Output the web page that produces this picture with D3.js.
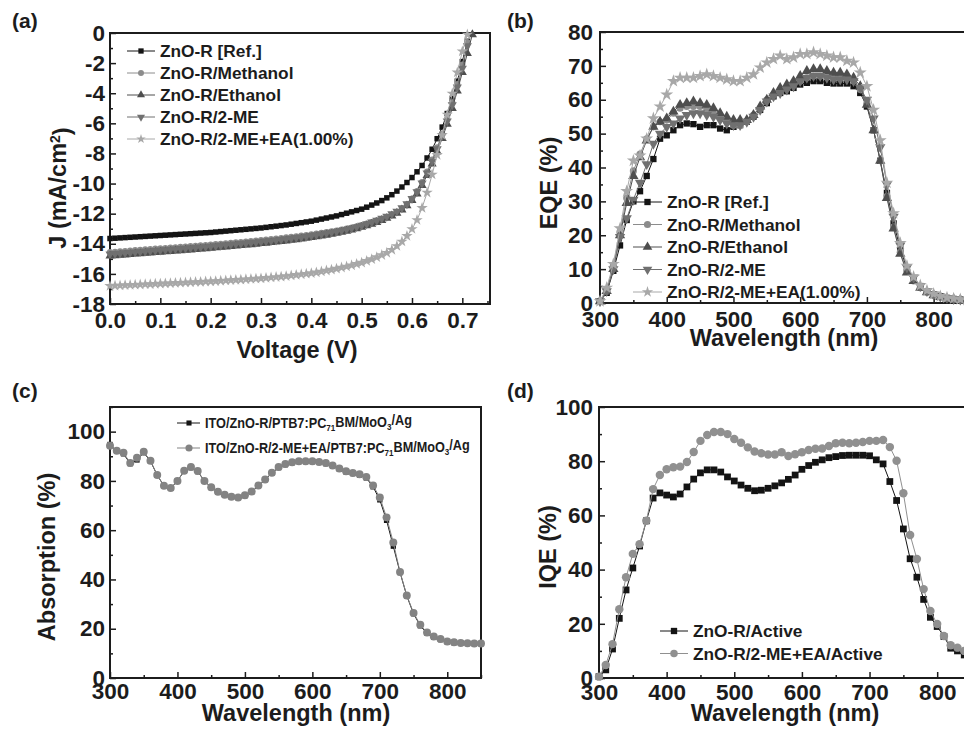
<!DOCTYPE html>
<html>
<head>
<meta charset="utf-8">
<script src="https://cdn.jsdelivr.net/npm/d3@7"></script>
<style>
  body { margin: 0; background: #fff; }
  svg text { font-family: "Liberation Sans", Arial, sans-serif; font-weight: bold; fill: #1c1c1c; }
  .axis line { stroke: #1c1c1c; stroke-width: 1.5; }
</style>
</head>
<body>
<svg id="fig" width="964" height="733"></svg>
<script>
// ---- data ----
// (a) J-V curves, voltage grid in V
var jvVolt = [0.00,0.01,0.02,0.03,0.04,0.05,0.06,0.07,0.08,0.09,
  0.10,0.11,0.12,0.13,0.14,0.15,0.16,0.17,0.18,0.19,
  0.20,0.21,0.22,0.23,0.24,0.25,0.26,0.27,0.28,0.29,
  0.30,0.31,0.32,0.33,0.34,0.35,0.36,0.37,0.38,0.39,
  0.40,0.41,0.42,0.43,0.44,0.45,0.46,0.47,0.48,0.49,
  0.50,0.51,0.52,0.53,0.54,0.55,0.56,0.57,0.58,0.59,
  0.60,0.61,0.62,0.63,0.64,0.65,0.66,0.67,0.68,0.69,
  0.70,0.71,0.72];
var jvRef = [-13.65,-13.63,-13.61,-13.59,-13.57,-13.55,-13.53,-13.51,-13.49,-13.47,
  -13.45,-13.43,-13.41,-13.39,-13.37,-13.35,-13.33,-13.31,-13.29,-13.27,
  -13.25,-13.22,-13.19,-13.16,-13.13,-13.10,-13.07,-13.04,-13.01,-12.98,
  -12.95,-12.91,-12.87,-12.83,-12.79,-12.75,-12.70,-12.65,-12.60,-12.55,
  -12.50,-12.43,-12.36,-12.29,-12.22,-12.15,-12.06,-11.97,-11.88,-11.79,
  -11.70,-11.57,-11.43,-11.29,-11.13,-10.95,-10.74,-10.50,-10.23,-9.93,
  -9.60,-9.22,-8.80,-8.30,-7.72,-7.02,-6.25,-5.35,-4.35,-3.20,
  -1.90,-0.55];
var jvMethanol = [-14.55,-14.53,-14.50,-14.48,-14.45,-14.42,-14.40,-14.37,-14.35,-14.32,
  -14.30,-14.28,-14.25,-14.23,-14.20,-14.18,-14.15,-14.13,-14.10,-14.08,
  -14.05,-14.02,-14.00,-13.97,-13.94,-13.91,-13.88,-13.85,-13.82,-13.79,
  -13.76,-13.73,-13.69,-13.66,-13.62,-13.58,-13.54,-13.50,-13.46,-13.42,
  -13.38,-13.33,-13.28,-13.23,-13.18,-13.12,-13.06,-12.99,-12.92,-12.84,
  -12.76,-12.66,-12.56,-12.45,-12.34,-12.22,-12.07,-11.90,-11.67,-11.38,
  -11.00,-10.50,-9.90,-9.20,-8.40,-7.60,-6.70,-5.70,-4.60,-3.40,
  -2.10,-0.60];
var jvEthanol = [-14.80,-14.78,-14.75,-14.73,-14.70,-14.67,-14.65,-14.62,-14.60,-14.57,
  -14.55,-14.52,-14.50,-14.47,-14.45,-14.42,-14.40,-14.37,-14.34,-14.32,
  -14.29,-14.26,-14.23,-14.20,-14.17,-14.14,-14.11,-14.08,-14.05,-14.02,
  -13.98,-13.95,-13.91,-13.88,-13.84,-13.80,-13.76,-13.72,-13.68,-13.63,
  -13.58,-13.53,-13.48,-13.42,-13.36,-13.30,-13.23,-13.16,-13.08,-12.99,
  -12.90,-12.80,-12.69,-12.57,-12.44,-12.30,-12.14,-11.96,-11.74,-11.47,
  -11.12,-10.68,-10.12,-9.45,-8.70,-7.88,-7.00,-6.05,-5.00,-3.85,
  -2.62,-1.35,-0.10];
var jv2ME = [-14.68,-14.66,-14.63,-14.61,-14.58,-14.55,-14.53,-14.50,-14.48,-14.45,
  -14.43,-14.40,-14.38,-14.35,-14.33,-14.30,-14.28,-14.25,-14.23,-14.20,
  -14.17,-14.14,-14.11,-14.08,-14.05,-14.02,-13.99,-13.96,-13.93,-13.90,
  -13.87,-13.83,-13.80,-13.76,-13.72,-13.68,-13.64,-13.60,-13.56,-13.51,
  -13.46,-13.41,-13.36,-13.30,-13.24,-13.18,-13.11,-13.04,-12.96,-12.87,
  -12.78,-12.68,-12.57,-12.45,-12.32,-12.18,-12.02,-11.84,-11.62,-11.35,
  -11.00,-10.55,-9.98,-9.30,-8.52,-7.70,-6.82,-5.85,-4.78,-3.60,
  -2.35,-0.85];
var jvEA = [-16.80,-16.78,-16.77,-16.75,-16.74,-16.72,-16.71,-16.69,-16.68,-16.66,
  -16.65,-16.63,-16.62,-16.60,-16.59,-16.57,-16.56,-16.54,-16.53,-16.51,
  -16.50,-16.48,-16.46,-16.44,-16.42,-16.40,-16.38,-16.36,-16.34,-16.32,
  -16.30,-16.27,-16.24,-16.21,-16.18,-16.15,-16.11,-16.07,-16.03,-15.99,
  -15.95,-15.90,-15.84,-15.78,-15.72,-15.65,-15.58,-15.51,-15.43,-15.34,
  -15.25,-15.14,-15.02,-14.89,-14.75,-14.60,-14.40,-14.15,-13.85,-13.48,
  -13.02,-12.42,-11.62,-10.60,-9.40,-8.10,-6.78,-5.42,-4.02,-2.62,
  -1.22,-0.10];

// wavelength grid (nm) for (b), (c), (d)
var wl = [300,310,320,330,340,350,360,370,380,390,
  400,410,420,430,440,450,460,470,480,490,
  500,510,520,530,540,550,560,570,580,590,
  600,610,620,630,640,650,660,670,680,690,
  700,710,720,730,740,750,760,770,780,790,
  800,810,820,830,840,850];

// (b) EQE (%)
var eqeRef = [0.5,3,9.5,17,24.5,30,33,37.5,42.5,48.5,
  49.5,51,52.5,53,52.8,52,52.5,52.5,51.5,51,
  52,52.5,53.5,55,57,59,61,62,62.5,63.5,
  64.5,65,65.5,65.5,65,64.8,64.8,64.8,64,62,
  58,51,42,32.5,23.5,16,10,7,5,3.5,
  2.5,2,1.5,1.2,1,0.8];
var eqeMethanol = [0.5,3.5,11,21,31,39,44,48.5,52,53.5,
  54,56,57.5,58,58,58,57,56,54.5,53.5,
  52.5,52.5,53.5,55.5,57.5,60,61.5,62.5,63.5,64.5,
  65.5,66.5,67,67,67,66.5,66.5,66.5,65.5,63,
  59,51,42,31.5,22.5,15,9.5,6.5,4.5,3.2,
  2.3,1.8,1.4,1.1,0.9,0.7];
var eqeEthanol = [0.5,3.5,10,20,29.5,37.5,43,48,52,53.5,
  54.5,56.5,58.5,59,59.5,59,58.5,57.5,56,55,
  54,54,54,55.5,58,60,62,63.5,64.5,65.5,
  67,68.5,69,69,68.5,68,68,67.5,66.5,64,
  58.5,51,42,31,22,14.5,9,6.5,4.5,3.2,
  2.3,1.8,1.3,1.1,0.9,0.7];
var eqe2ME = [0.5,3.5,10,19.5,25,30.5,35.5,41,47,50,
  52,53,54.5,55.5,56,56,55.5,55,54,53,
  52.5,52.5,53.5,55,57,59.5,61,62,63,64,
  65.5,66.5,67,67,66.5,66,66,66,65.5,63.5,
  60,54.5,46,35,25.5,17,10.5,7.5,5,3.5,
  2.5,1.9,1.5,1.2,1,0.8];
var eqeEA = [0.5,4.5,11.5,22,33,42,43.5,48.5,54.5,58,
  61.5,65.5,66.5,66.5,66.5,67,67.5,67,66.5,66,
  65.5,65.5,66.5,67.5,69.5,71,72,73,72,72.5,
  73.5,73.5,74,73.5,73,72.5,72.5,71.5,71,68,
  64,57,48,35.5,26.5,17.7,11,7.7,5.2,3.7,
  2.7,2,1.6,1.3,1.1,0.9];

// (c) absorption (%)
var absRef = [94.8,92,91,87,88.5,91.5,88,82.3,78,77,
  80,84,85.4,83.8,80,77.3,75.4,74.2,73.4,73.2,
  74,75.5,78,80.5,83.2,85.4,86.6,87.4,87.8,87.8,
  87.8,87.5,87,86,84.8,83.6,83,82.4,81.2,77.6,
  72.3,64,53.5,42.8,33.3,26.1,21.2,18.2,16.5,15.6,
  14.6,14.3,14.1,14,13.9,13.9];
var absEA = [94.3,92.2,91.4,87.3,89.4,91.8,88.2,82.4,78,77.1,
  80,84.1,85.6,84,80,77.4,75.6,74.4,73.6,73.3,
  74.2,75.7,78.1,80.6,83.3,85.6,86.9,87.6,88,88,
  88,87.7,87.3,86.3,85,83.9,83.2,82.7,81.6,78.1,
  73.3,65.2,55,43,33.5,26.4,21.6,18.5,16.8,15.8,
  14.8,14.5,14.2,14.1,14,14];

// (d) IQE (%)
var iqeRef = [0.5,3,10.7,22,32.5,40.6,48.7,58,66.4,68.3,
  67.5,66.8,67.9,70.5,73.4,75.7,76.8,76.8,76,74.2,
  72.7,71.2,70,69.1,69.3,70,70.9,72,73.3,74.9,
  77,78.4,79.6,80.5,81.3,81.7,82.1,82.2,82.2,82.2,
  82,80.5,79,72.5,65.5,55,44,37.2,29,22.4,
  19,15.3,11,10,8.5,8];
var iqeEA = [0.5,4.8,12.5,25.4,37.2,45.8,49.4,58,69.7,74.9,
  77,77.8,78,79.7,83.4,87.5,89.7,90.8,90.8,90,
  88.2,86.8,85.1,83.6,82.9,82.5,82.5,83.3,81.9,82.6,
  83.3,84.1,84.6,84.7,85.6,86.6,86.8,86.6,86.8,87.1,
  87.5,87.5,87.8,85.2,80.2,68.2,52.8,43.9,32.8,24.7,
  19.9,15.5,12.1,11.2,10,9.5];

// labels and ticks
var solventLabels = ["ZnO-R [Ref.]", "ZnO-R/Methanol", "ZnO-R/Ethanol", "ZnO-R/2-ME", "ZnO-R/2-ME+EA(1.00%)"];
var iqeLabels = ["ZnO-R/Active", "ZnO-R/2-ME+EA/Active"];
var jvXTicks = [0, 0.1, 0.2, 0.3, 0.4, 0.5, 0.6, 0.7];
var jvYTicks = [-18, -16, -14, -12, -10, -8, -6, -4, -2, 0];
var wlTicks = [300, 400, 500, 600, 700, 800];
var eqeYTicks = [0, 10, 20, 30, 40, 50, 60, 70, 80];
var pctTicks = [0, 20, 40, 60, 80, 100];

// ---- drawing ----
var svg = d3.select("#fig");
var ink = "#1c1c1c";
var greys = ["#141414", "#8c8c8c", "#4e4e4e", "#707070", "#a8a8a8"];
var symbols = [d3.symbolSquare, d3.symbolCircle, d3.symbolTriangle, d3.symbolTriangle, d3.symbolStar];
var flips = [false, false, false, true, false];

function mids(t, step) {
  // minor tick positions halfway between the majors
  return t.map(function(v) { return v + step / 2; });
}

function panel(p) {
  var x = d3.scaleLinear().domain(p.xDom).range([p.left, p.right]);
  var y = d3.scaleLinear().domain(p.yDom).range([p.bottom, p.top]);
  var g = svg.append("g");

  var xa = g.append("g").attr("class", "axis").attr("transform", "translate(0," + p.bottom + ")")
    .call(d3.axisBottom(x).tickValues(p.xTicks).tickSize(-6).tickPadding(p.xPad).tickFormat(p.xFmt));
  xa.attr("font-size", 22.5);
  xa.select(".domain").remove();
  var xm = g.append("g").attr("class", "axis").attr("transform", "translate(0," + p.bottom + ")")
    .call(d3.axisBottom(x).tickValues(p.xMinor).tickSize(-3).tickFormat(function() { return ""; }));
  xm.select(".domain").remove();

  var ya = g.append("g").attr("class", "axis").attr("transform", "translate(" + p.left + ",0)")
    .call(d3.axisLeft(y).tickValues(p.yTicks).tickSize(-6).tickPadding(p.yPad).tickFormat(function(d) { return String(d); }));
  ya.attr("font-size", 22.5);
  ya.select(".domain").remove();
  var ym = g.append("g").attr("class", "axis").attr("transform", "translate(" + p.left + ",0)")
    .call(d3.axisLeft(y).tickValues(p.yMinor).tickSize(-3).tickFormat(function() { return ""; }));
  ym.select(".domain").remove();

  g.append("rect")
    .attr("x", p.left).attr("y", p.top)
    .attr("width", p.right - p.left).attr("height", p.bottom - p.top)
    .attr("fill", "none").attr("stroke", ink).attr("stroke-width", 2);

  // panel letter
  g.append("text").attr("x", p.tagX).attr("y", p.tagY).attr("font-size", 21).text(p.tag);
  // axis titles
  g.append("text").attr("x", p.xTitleX).attr("y", p.xTitleY)
    .attr("text-anchor", "middle").attr("font-size", 23.5).text(p.xTitle);
  var yt = g.append("text")
    .attr("transform", "translate(" + p.yTitleX + "," + p.yTitleY + ") rotate(-90)")
    .attr("text-anchor", "middle").attr("font-size", 23.5);
  p.yTitle(yt);

  return {g: g, x: x, y: y};
}

function series(P, xs, ys, color, sym, size, flip) {
  var pts = ys.map(function(v, i) { return [xs[i], v]; });
  P.g.append("path").datum(pts)
    .attr("d", d3.line().x(function(d) { return P.x(d[0]); }).y(function(d) { return P.y(d[1]); }))
    .attr("fill", "none").attr("stroke", color).attr("stroke-width", 1);
  P.g.append("g").selectAll("path").data(pts).enter().append("path")
    .attr("d", d3.symbol().type(sym).size(size))
    .attr("transform", function(d) {
      return "translate(" + P.x(d[0]) + "," + P.y(d[1]) + ")" + (flip ? " rotate(180)" : "");
    })
    .attr("fill", color);
}

function legend(P, items, y0, dy, lx0, lx1, tx, fs) {
  items.forEach(function(it, i) {
    var yy = y0 + i * dy;
    P.g.append("line").attr("x1", lx0).attr("x2", lx1).attr("y1", yy).attr("y2", yy)
      .attr("stroke", it.color).attr("stroke-width", 1);
    P.g.append("path").attr("d", d3.symbol().type(it.sym).size(it.size))
      .attr("transform", "translate(" + ((lx0 + lx1) / 2) + "," + yy + ")" + (it.flip ? " rotate(180)" : ""))
      .attr("fill", it.color);
    P.g.append("text").attr("x", tx).attr("y", yy).attr("dy", "0.36em")
      .attr("font-size", fs).text(it.label);
  });
}

// (a) J-V
var A = panel({
  left: 110, right: 490, top: 33, bottom: 304,
  xDom: [0, 0.755], yDom: [-18, 0],
  xTicks: jvXTicks, xMinor: mids(jvXTicks, 0.1), yTicks: jvYTicks, yMinor: mids(jvYTicks.slice(0, -1), 2),
  xFmt: function(d) { return d.toFixed(1); }, xPad: 8, yPad: 5,
  tag: "(a)", tagX: 12, tagY: 28,
  xTitle: "Voltage (V)", xTitleX: 297, xTitleY: 358,
  yTitleX: 66, yTitleY: 188,
  yTitle: function(t) {
    t.append("tspan").text("J (mA/cm");
    t.append("tspan").attr("dy", "-0.45em").attr("font-size", 14).text("2");
    t.append("tspan").attr("dy", "0.45em").text(")");
  }
});
var jvSeries = [jvRef, jvMethanol, jvEthanol, jv2ME, jvEA];
var jvSizes = [30, 30, 36, 36, 40];
jvSeries.forEach(function(s, i) { series(A, jvVolt, s, greys[i], symbols[i], jvSizes[i], flips[i]); });
legend(A, solventLabels.map(function(l, i) {
  return {label: l, color: greys[i], sym: symbols[i], size: 28, flip: flips[i]};
}), 51, 22, 127, 155, 160, 17.3);

// (b) EQE
var B = panel({
  left: 600, right: 967, top: 32, bottom: 303,
  xDom: [300, 850], yDom: [0, 80],
  xTicks: wlTicks, xMinor: mids(wlTicks, 100), yTicks: eqeYTicks, yMinor: mids(eqeYTicks.slice(0, -1), 10),
  xFmt: function(d) { return String(d); }, xPad: 8, yPad: 7,
  tag: "(b)", tagX: 507, tagY: 28,
  xTitle: "Wavelength (nm)", xTitleX: 784, xTitleY: 346,
  yTitleX: 557, yTitleY: 183,
  yTitle: function(t) { t.text("EQE (%)"); }
});
var eqeSeries = [eqeRef, eqeMethanol, eqeEthanol, eqe2ME, eqeEA];
var eqeSizes = [40, 40, 46, 46, 52];
eqeSeries.forEach(function(s, i) { series(B, wl, s, greys[i], symbols[i], eqeSizes[i], flips[i]); });
legend(B, solventLabels.map(function(l, i) {
  return {label: l, color: greys[i], sym: symbols[i], size: 40, flip: flips[i]};
}), 202, 22.5, 633, 662, 667, 17.3);

// (c) absorption
var C = panel({
  left: 110, right: 481, top: 407, bottom: 678,
  xDom: [300, 850], yDom: [0, 110],
  xTicks: wlTicks, xMinor: mids(wlTicks, 100), yTicks: pctTicks, yMinor: mids(pctTicks, 20),
  xFmt: function(d) { return String(d); }, xPad: 5, yPad: 5,
  tag: "(c)", tagX: 12, tagY: 398,
  xTitle: "Wavelength (nm)", xTitleX: 296, xTitleY: 721,
  yTitleX: 55, yTitleY: 557,
  yTitle: function(t) { t.text("Absorption (%)"); }
});
series(C, wl, absRef, greys[0], d3.symbolSquare, 28, false);
series(C, wl, absEA, "#838383", d3.symbolCircle, 50, false);

var absLegend = [
  {parts: ["ITO/ZnO-R/PTB7:PC", "71", "BM/MoO", "3", "/Ag"], color: greys[0], sym: d3.symbolSquare, size: 26, width: 207},
  {parts: ["ITO/ZnO-R/2-ME+EA/PTB7:PC", "71", "BM/MoO", "3", "/Ag"], color: "#838383", sym: d3.symbolCircle, size: 40, width: 265}
];
absLegend.forEach(function(it, i) {
  var yy = 423 + i * 25;
  C.g.append("line").attr("x1", 177).attr("x2", 200).attr("y1", yy).attr("y2", yy)
    .attr("stroke", it.color).attr("stroke-width", 1);
  C.g.append("path").attr("d", d3.symbol().type(it.sym).size(it.size))
    .attr("transform", "translate(189," + yy + ")").attr("fill", it.color);
  var tg = C.g.append("g");
  var t = tg.append("text").attr("dy", "0.36em").attr("font-size", 15);
  it.parts.forEach(function(s, k) {
    var sub = (k % 2 === 1);
    t.append("tspan").attr("dy", sub ? "0.3em" : (k > 0 ? "-0.3em" : null))
      .attr("font-size", sub ? 9.5 : null).text(s);
  });
  var w = t.node().getComputedTextLength();
  tg.attr("transform", "translate(205," + yy + ") scale(" + (it.width / w) + ",1)");
});

// (d) IQE
var D = panel({
  left: 599, right: 971, top: 407, bottom: 678,
  xDom: [300, 850], yDom: [0, 100],
  xTicks: wlTicks, xMinor: mids(wlTicks, 100), yTicks: pctTicks, yMinor: mids(pctTicks.slice(0, -1), 20),
  xFmt: function(d) { return String(d); }, xPad: 6, yPad: 6,
  tag: "(d)", tagX: 507, tagY: 398,
  xTitle: "Wavelength (nm)", xTitleX: 785, xTitleY: 721,
  yTitleX: 556, yTitleY: 547,
  yTitle: function(t) { t.text("IQE (%)"); }
});
series(D, wl, iqeRef, greys[0], d3.symbolSquare, 46, false);
series(D, wl, iqeEA, "#909090", d3.symbolCircle, 56, false);
legend(D, [
  {label: iqeLabels[0], color: greys[0], sym: d3.symbolSquare, size: 40},
  {label: iqeLabels[1], color: "#909090", sym: d3.symbolCircle, size: 44}
], 631, 22.5, 660, 688, 693, 17.3);
</script>
</body>
</html>
